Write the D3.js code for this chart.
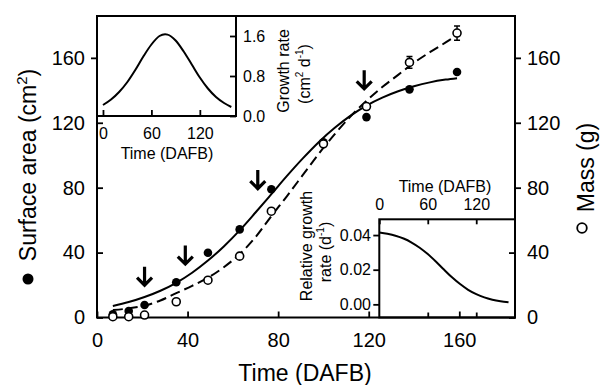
<!DOCTYPE html>
<html>
<head>
<meta charset="utf-8">
<script src="https://cdn.jsdelivr.net/npm/d3@7"></script>
<style>
body { margin: 0; background: #fff; }
svg text { font-family: "Liberation Sans", Arial, sans-serif; fill: #000; }
</style>
</head>
<body>
<div class="chart"></div>
<script>
const days = [7, 14, 21, 35, 49, 63, 77, 100, 119, 138, 159];
const surfaceArea = [2, 4, 7.7, 21.7, 39.9, 54.3, 79, 108, 123.5, 140.6, 151.3];
const mass = [0.5, 0.5, 1.5, 9.7, 23, 37.8, 65.5, 107, 130, 157.2, 175.3];
const massErr = [0, 0, 0, 0, 0, 0, 0, 0, 0, 3.6, 4.4];

// courbes ajustees
const fitDays = [7, 14, 21, 28, 35, 42, 49, 56, 63, 70, 77, 84, 91, 98, 105, 112, 119, 126, 133, 140, 147, 154, 159];
const surfaceFit = [7.1, 9.5, 12.6, 16.5, 21.4, 27.6, 35.1, 43.8, 53.7, 64.7, 76, 87.4, 98.2, 108.2, 116.9, 124.4, 130.6, 135.5, 139.4, 142.5, 144.9, 146.6, 147.5];
const massFit = [4.6, 5.6, 7.3, 10.5, 15, 19.5, 24.5, 31, 39, 49.5, 62.5, 75, 88, 101, 113, 124, 133.5, 142, 149.5, 157, 163.5, 169.5, 174];

// fleches (jour, bout de la fleche)
const arrowDays = [21, 39, 71, 118];
const arrowTips = [19, 32, 78.5, 140];

// encart haut : vitesse de croissance
const rateDays = [0, 10, 20, 30, 40, 50, 60, 70, 77, 80, 90, 100, 110, 120, 130, 140, 150, 159];
const growthRate = [0.22, 0.33, 0.48, 0.675, 0.92, 1.19, 1.43, 1.6, 1.634, 1.628, 1.51, 1.29, 1.03, 0.77, 0.55, 0.38, 0.26, 0.18];

// encart bas : vitesse relative
const relDays = [0, 10, 20, 30, 40, 50, 60, 70, 80, 90, 100, 110, 120, 130, 140, 150, 160];
const relRate = [0.0415, 0.0407, 0.0396, 0.038, 0.0357, 0.0327, 0.029, 0.0247, 0.0201, 0.0156, 0.0117, 0.0084, 0.0059, 0.004, 0.0027, 0.0018, 0.0012];

// ticks
const mainXTicks = [0, 40, 80, 120, 160];
const mainYTicks = [0, 40, 80, 120, 160];
const in1XTicks = [0, 60, 120];
const in1YTicks = [0, 0.8, 1.6];
const in2XTicks = [0, 60, 120];
const in2YTicks = [0, 0.02, 0.04];

const svg = d3.select(".chart")
    .append("svg")
    .attr("width", 601)
    .attr("height", 385);

// echelles
const x = d3.scaleLinear().domain([0, 184.6]).range([97, 515]);
const y = d3.scaleLinear().domain([0, 185.8]).range([317.5, 16]);
const x1 = d3.scaleLinear().domain([-7.4, 164.8]).range([97, 236]);
const y1 = d3.scaleLinear().domain([0, 2]).range([116, 16]);
const x2 = d3.scaleLinear().domain([0, 168]).range([379.3, 515]);
const y2 = d3.scaleLinear().domain([-0.0076, 0.0491]).range([317.5, 219.3]);

function styleAxis(g, size) {
    g.select(".domain").remove();
    g.selectAll(".tick line").attr("stroke", "#000").attr("stroke-width", 1.8);
    g.selectAll(".tick text").attr("font-size", size).attr("fill", "#000")
        .style("font-family", '"Liberation Sans", Arial, sans-serif');
}

// axes principaux
const gx = svg.append("g").attr("transform", "translate(0,317.5)")
    .call(d3.axisBottom(x).tickValues(mainXTicks).tickSizeInner(-6).tickSizeOuter(0).tickPadding(15.5).tickFormat(d3.format("d")));
styleAxis(gx, 20);

const gy = svg.append("g").attr("transform", "translate(97,0)")
    .call(d3.axisLeft(y).tickValues(mainYTicks).tickSizeInner(-6).tickSizeOuter(0).tickPadding(12).tickFormat(d3.format("d")));
styleAxis(gy, 20);
// le tick dans l'encart part vers l'exterieur
gy.selectAll(".tick line").attr("x2", d => y(d) < 116 ? -6 : 6);

const gyr = svg.append("g").attr("transform", "translate(515,0)")
    .call(d3.axisRight(y).tickValues(mainYTicks).tickSizeInner(6).tickSizeOuter(0).tickPadding(6).tickFormat(d3.format("d")));
styleAxis(gyr, 20);
gyr.selectAll(".tick line").attr("x2", d => y(d) > 219.3 ? -6 : 6);

// cadre principal
svg.append("rect").attr("x", 97).attr("y", 16).attr("width", 418).attr("height", 301.5)
    .attr("fill", "none").attr("stroke", "#000").attr("stroke-width", 2);

// titres
svg.append("text").attr("transform", "translate(305,381)")
    .attr("text-anchor", "middle").attr("font-size", 23).text("Time (DAFB)");

const tl = svg.append("text").attr("transform", "translate(36,165) rotate(-90)")
    .attr("text-anchor", "middle").attr("font-size", 23);
tl.append("tspan").text("Surface area (cm");
tl.append("tspan").attr("font-size", 15).attr("dy", -9).text("2");
tl.append("tspan").attr("dy", 9).text(")");
svg.append("circle").attr("cx", 28).attr("cy", 279).attr("r", 5.5).attr("fill", "#000");

svg.append("text").attr("transform", "translate(593.5,167.5) rotate(-90)")
    .attr("text-anchor", "middle").attr("font-size", 23).text("Mass (g)");
svg.append("circle").attr("cx", 582).attr("cy", 228).attr("r", 4.8)
    .attr("fill", "#fff").attr("stroke", "#000").attr("stroke-width", 1.8);

// courbes ajustees
const fitLine = d3.line().curve(d3.curveMonotoneX);
svg.append("path")
    .attr("d", fitLine(fitDays.map((d, i) => [x(d), y(surfaceFit[i])])))
    .attr("fill", "none").attr("stroke", "#000").attr("stroke-width", 2);
svg.append("path")
    .attr("d", fitLine(fitDays.map((d, i) => [x(d), y(massFit[i])])))
    .attr("fill", "none").attr("stroke", "#000").attr("stroke-width", 2)
    .attr("stroke-dasharray", "10,5");

// barres d'erreur de la masse
days.forEach((d, i) => {
    if (massErr[i] <= 0) return;
    const cx = x(d), top = y(mass[i] + massErr[i]), bot = y(mass[i] - massErr[i]);
    svg.append("path")
        .attr("d", `M${cx},${top}V${bot}M${cx - 3},${top}H${cx + 3}M${cx - 3},${bot}H${cx + 3}`)
        .attr("stroke", "#000").attr("stroke-width", 1.5).attr("fill", "none");
});

// points surface (pleins)
svg.selectAll(".surf").data(days).enter().append("circle")
    .attr("class", "surf")
    .attr("cx", d => x(d))
    .attr("cy", (d, i) => y(surfaceArea[i]))
    .attr("r", 4.3)
    .attr("fill", "#000");

// points masse (vides)
svg.selectAll(".mass").data(days).enter().append("circle")
    .attr("class", "mass")
    .attr("cx", d => x(d))
    .attr("cy", (d, i) => y(mass[i]))
    .attr("r", 4)
    .attr("fill", "#fff").attr("stroke", "#000").attr("stroke-width", 1.6);

// fleches
arrowDays.forEach((d, i) => {
    const ax = x(d), tip = y(arrowTips[i]);
    svg.append("path")
        .attr("d", `M${ax},${tip - 20}V${tip - 2}M${ax - 7.5},${tip - 9}L${ax},${tip - 1.5}L${ax + 7.5},${tip - 9}`)
        .attr("fill", "none").attr("stroke", "#000").attr("stroke-width", 3.2);
});

// ---- encart 1 ----
svg.append("rect").attr("x", 97).attr("y", 16).attr("width", 139).attr("height", 100)
    .attr("fill", "none").attr("stroke", "#000").attr("stroke-width", 2);

const g1x = svg.append("g").attr("transform", "translate(0,116)")
    .call(d3.axisBottom(x1).tickValues(in1XTicks).tickSizeInner(-6).tickSizeOuter(0).tickPadding(12).tickFormat(d3.format("d")));
styleAxis(g1x, 16);
const g1y = svg.append("g").attr("transform", "translate(236,0)")
    .call(d3.axisRight(y1).tickValues(in1YTicks).tickSizeInner(-6).tickSizeOuter(0).tickPadding(7).tickFormat(d3.format(".1f")));
styleAxis(g1y, 16);

svg.append("path")
    .attr("d", d3.line().curve(d3.curveMonotoneX)(rateDays.map((d, i) => [x1(d), y1(growthRate[i])])))
    .attr("fill", "none").attr("stroke", "#000").attr("stroke-width", 2);

svg.append("text").attr("x", 167).attr("y", 158.5).attr("text-anchor", "middle")
    .attr("font-size", 16).text("Time (DAFB)");
svg.append("text").attr("transform", "translate(289,71) rotate(-90)")
    .attr("text-anchor", "middle").attr("font-size", 16).text("Growth rate");
const g1t = svg.append("text").attr("transform", "translate(309.5,74) rotate(-90)")
    .attr("text-anchor", "middle").attr("font-size", 16);
g1t.append("tspan").text("(cm");
g1t.append("tspan").attr("font-size", 10).attr("dy", -7).text("2");
g1t.append("tspan").attr("dy", 7).text(" d");
g1t.append("tspan").attr("font-size", 10).attr("dy", -7).text("-1");
g1t.append("tspan").attr("dy", 7).text(")");

// ---- encart 2 ----
svg.append("rect").attr("x", 379.3).attr("y", 219.3).attr("width", 135.7).attr("height", 98.2)
    .attr("fill", "none").attr("stroke", "#000").attr("stroke-width", 2);

const g2x = svg.append("g").attr("transform", "translate(0,219.3)")
    .call(d3.axisTop(x2).tickValues(in2XTicks).tickSizeInner(-5).tickSizeOuter(0).tickPadding(9.3).tickFormat(d3.format("d")));
styleAxis(g2x, 16);
const g2b = svg.append("g").attr("transform", "translate(0,317.5)")
    .call(d3.axisBottom(x2).tickValues(in2XTicks.slice(1)).tickSizeInner(-5).tickSizeOuter(0).tickFormat(""));
styleAxis(g2b, 16);
const g2y = svg.append("g").attr("transform", "translate(379.3,0)")
    .call(d3.axisLeft(y2).tickValues(in2YTicks).tickSizeInner(6).tickSizeOuter(0).tickPadding(2.3).tickFormat(d3.format(".2f")));
styleAxis(g2y, 16);

svg.append("path")
    .attr("d", d3.line().curve(d3.curveMonotoneX)(relDays.map((d, i) => [x2(d), y2(relRate[i])])))
    .attr("fill", "none").attr("stroke", "#000").attr("stroke-width", 2);

svg.append("text").attr("x", 445).attr("y", 191.5).attr("text-anchor", "middle")
    .attr("font-size", 16).text("Time (DAFB)");
svg.append("text").attr("transform", "translate(312,246) rotate(-90)")
    .attr("text-anchor", "middle").attr("font-size", 16).text("Relative growth");
const g2t = svg.append("text").attr("transform", "translate(331,252) rotate(-90)")
    .attr("text-anchor", "middle").attr("font-size", 16);
g2t.append("tspan").text("rate (d");
g2t.append("tspan").attr("font-size", 10).attr("dy", -7).text("-1");
g2t.append("tspan").attr("dy", 7).text(")");
</script>
</body>
</html>
